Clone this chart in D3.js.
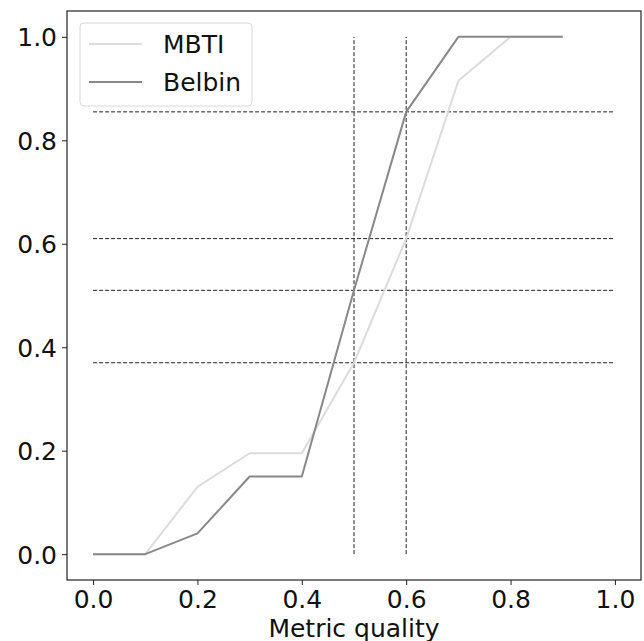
<!DOCTYPE html>
<html>
<head>
<meta charset="utf-8">
<script src="https://cdn.jsdelivr.net/npm/d3@7"></script>
<style>
    body { margin: 0; background: #fff; }
    svg { display: block; }
</style>
</head>
<body>
<div id="chart"></div>
<script>

/* Data -------------------------------------------------------------------- */

const thresholds = [0.0, 0.1, 0.2, 0.3, 0.4, 0.5, 0.6, 0.7, 0.8, 0.9];
const mbtiValues = [0.0, 0.0, 0.13, 0.195, 0.195, 0.37, 0.61, 0.915, 1.0, 1.0];
const belbinValues = [0.0, 0.0, 0.04, 0.15, 0.15, 0.51, 0.855, 1.0, 1.0, 1.0];
const hLevels = [0.855, 0.61, 0.51, 0.37];
const vLevels = [0.5, 0.6];
const tickValues = [0.0, 0.2, 0.4, 0.6, 0.8, 1.0];

const series = [
    {name: "MBTI", values: mbtiValues, color: "#dcdcdc"},
    {name: "Belbin", values: belbinValues, color: "#888888"}
];

/* Draw graphic ------------------------------------------------------------ */

const width = 644;
const height = 641;
const margin = {top: 11, right: 3, bottom: 61, left: 67};
const fontFamily = "DejaVu Sans, sans-serif";
const fontSize = 25;

const innerWidth = width - margin.left - margin.right;
const innerHeight = height - margin.top - margin.bottom;

// Scales (5% padding either side, like matplotlib)
const xScale = d3.scaleLinear()
    .domain([-0.05, 1.05])
    .range([0, innerWidth]);

const yScale = d3.scaleLinear()
    .domain([-0.05, 1.05])
    .range([innerHeight, 0]);

// SVG
const svg = d3.select("#chart")
    .append("svg")
    .attr("width", width)
    .attr("height", height);

svg.append("rect")
    .attr("width", width)
    .attr("height", height)
    .attr("fill", "#fff");

const canvas = svg.append("g")
    .attr("transform", `translate(${margin.left},${margin.top})`);

// Dashed reference lines
canvas.selectAll(".hline")
    .data(hLevels)
    .enter()
    .append("line")
    .attr("class", "hline")
    .attr("x1", xScale(0))
    .attr("x2", xScale(1))
    .attr("y1", d => yScale(d))
    .attr("y2", d => yScale(d))
    .attr("stroke", "#222")
    .attr("stroke-width", 1)
    .attr("stroke-dasharray", "4,2");

canvas.selectAll(".vline")
    .data(vLevels)
    .enter()
    .append("line")
    .attr("class", "vline")
    .attr("x1", d => xScale(d))
    .attr("x2", d => xScale(d))
    .attr("y1", yScale(0))
    .attr("y2", yScale(1))
    .attr("stroke", "#222")
    .attr("stroke-width", 1)
    .attr("stroke-dasharray", "4,2");

// Series lines
const line = d3.line()
    .x((d, i) => xScale(thresholds[i]))
    .y(d => yScale(d));

canvas.selectAll(".series")
    .data(series)
    .enter()
    .append("path")
    .attr("class", "series")
    .attr("d", d => line(d.values))
    .attr("fill", "none")
    .attr("stroke", d => d.color)
    .attr("stroke-width", 2)
    .attr("stroke-linejoin", "round");

// Axes
const xAxis = canvas.append("g")
    .attr("class", "axis xaxis")
    .attr("transform", `translate(0,${innerHeight})`)
    .call(d3.axisBottom(xScale)
        .tickValues(tickValues)
        .tickFormat(d3.format(".1f"))
        .tickSize(5)
        .tickPadding(5));

const yAxis = canvas.append("g")
    .attr("class", "axis yaxis")
    .call(d3.axisLeft(yScale)
        .tickValues(tickValues)
        .tickFormat(d3.format(".1f"))
        .tickSize(5)
        .tickPadding(5));

svg.selectAll(".axis path").remove();
svg.selectAll(".axis line")
    .attr("stroke", "#222")
    .attr("stroke-width", 1);
svg.selectAll(".axis text")
    .attr("fill", "#111")
    .style("font-family", fontFamily)
    .style("font-size", `${fontSize}px`);
yAxis.selectAll("text").attr("dy", "0.36em");

// Frame
canvas.append("rect")
    .attr("width", innerWidth)
    .attr("height", innerHeight)
    .attr("fill", "none")
    .attr("stroke", "#222")
    .attr("stroke-width", 1.2);

// X-axis title (cut by the bottom edge, as in the original)
svg.append("text")
    .attr("x", margin.left + innerWidth / 2)
    .attr("y", 637)
    .attr("text-anchor", "middle")
    .attr("fill", "#111")
    .style("font-family", fontFamily)
    .style("font-size", `${fontSize}px`)
    .text("Metric quality");

// Legend
const legend = canvas.append("g")
    .attr("transform", "translate(13,12)");

legend.append("rect")
    .attr("width", 172)
    .attr("height", 83)
    .attr("rx", 4)
    .attr("fill", "#fff")
    .attr("fill-opacity", 0.8)
    .attr("stroke", "#d8d8d8")
    .attr("stroke-width", 1);

const items = legend.selectAll(".item")
    .data(series)
    .enter()
    .append("g")
    .attr("class", "item")
    .attr("transform", (d, i) => `translate(0,${21 + i * 38})`);

items.append("line")
    .attr("x1", 9)
    .attr("x2", 62)
    .attr("stroke", d => d.color)
    .attr("stroke-width", 2);

items.append("text")
    .attr("x", 83)
    .attr("y", 9)
    .attr("fill", "#111")
    .style("font-family", fontFamily)
    .style("font-size", `${fontSize}px`)
    .text(d => d.name);

</script>
</body>
</html>
